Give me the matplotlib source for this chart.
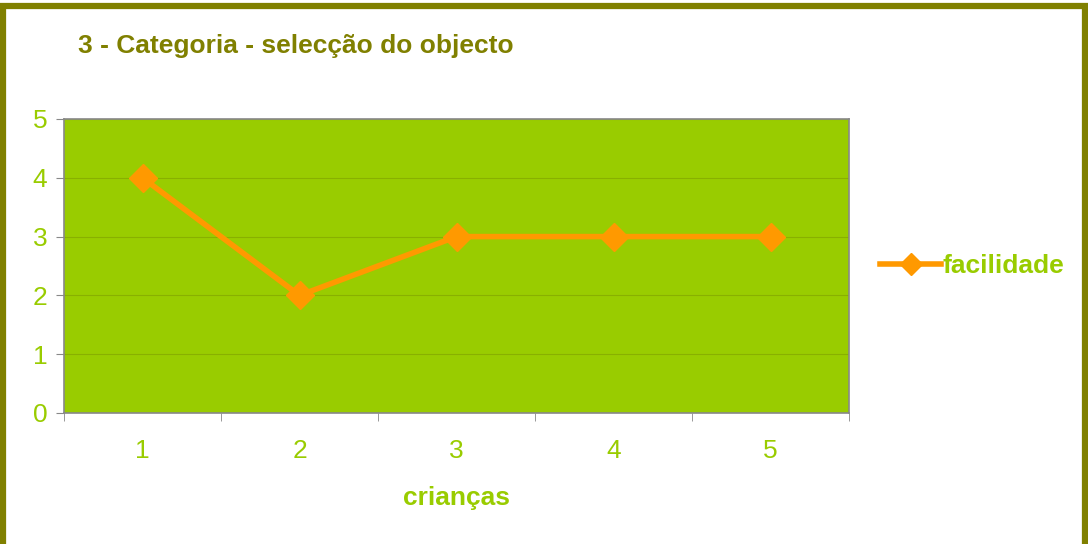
import matplotlib.pyplot as plt
from matplotlib.patches import Rectangle
from matplotlib.lines import Line2D

criancas = [1, 2, 3, 4, 5]
facilidade = [4, 2, 3, 3, 3]
y_ticks = [0, 1, 2, 3, 4, 5]

olive = '#808000'
lime = '#99CC00'
orange = '#FF9900'

plt.rcParams['font.family'] = ['Liberation Sans', 'DejaVu Sans']

fig = plt.figure(figsize=(10.88, 5.44), dpi=100)
ax = fig.add_axes([64 / 1088, 1 - 413 / 544, (849 - 64) / 1088, (413 - 119) / 544])

# frame around the chart (bottom edge runs off the picture)
fig.patches.append(Rectangle((3 / 1088, -20 / 544), 1081.5 / 1088, 558 / 544,
                             transform=fig.transFigure, fill=False,
                             edgecolor=olive, linewidth=4.5, zorder=0))

ax.set_facecolor(lime)
ax.plot(criancas, facilidade, color=orange, linewidth=4, marker='D',
        markersize=14, zorder=3)

ax.set_xlim(0.5, 5.5)
ax.set_ylim(0, 5)
ax.set_yticks(y_ticks)
ax.set_xticks(criancas)
ax.set_xticks([i + 0.5 for i in range(0, 6)], minor=True)
ax.tick_params(axis='x', which='major', length=0, pad=19, labelsize=19,
               labelcolor=lime)
ax.tick_params(axis='x', which='minor', length=6, color='#888888',
               direction='out')
ax.tick_params(axis='y', length=6, color='#888888', labelsize=19,
               labelcolor=lime, pad=6)
ax.grid(axis='y', color='#88B000', linewidth=0.8)
ax.set_axisbelow(True)
for s in ax.spines.values():
    s.set_color('#888888')
    s.set_linewidth(1.2)

ax.set_xlabel('crianças', color=lime, fontsize=19, fontweight='bold',
              labelpad=16)
fig.text(78 / 1088, 1 - 46 / 544, '3 - Categoria - selecção do objecto',
         color=olive, fontsize=19, fontweight='bold', va='center')

handle = Line2D([], [], color=orange, linewidth=4, marker='D', markersize=11)
fig.legend([handle], ['facilidade'], loc='center left',
           bbox_to_anchor=(867 / 1088, 1 - 266 / 544), frameon=False,
           handlelength=2.3, handletextpad=0.05, borderpad=0,
           prop={'size': 19, 'weight': 'bold'}, labelcolor=lime)

fig.savefig('out.png', dpi=100)
